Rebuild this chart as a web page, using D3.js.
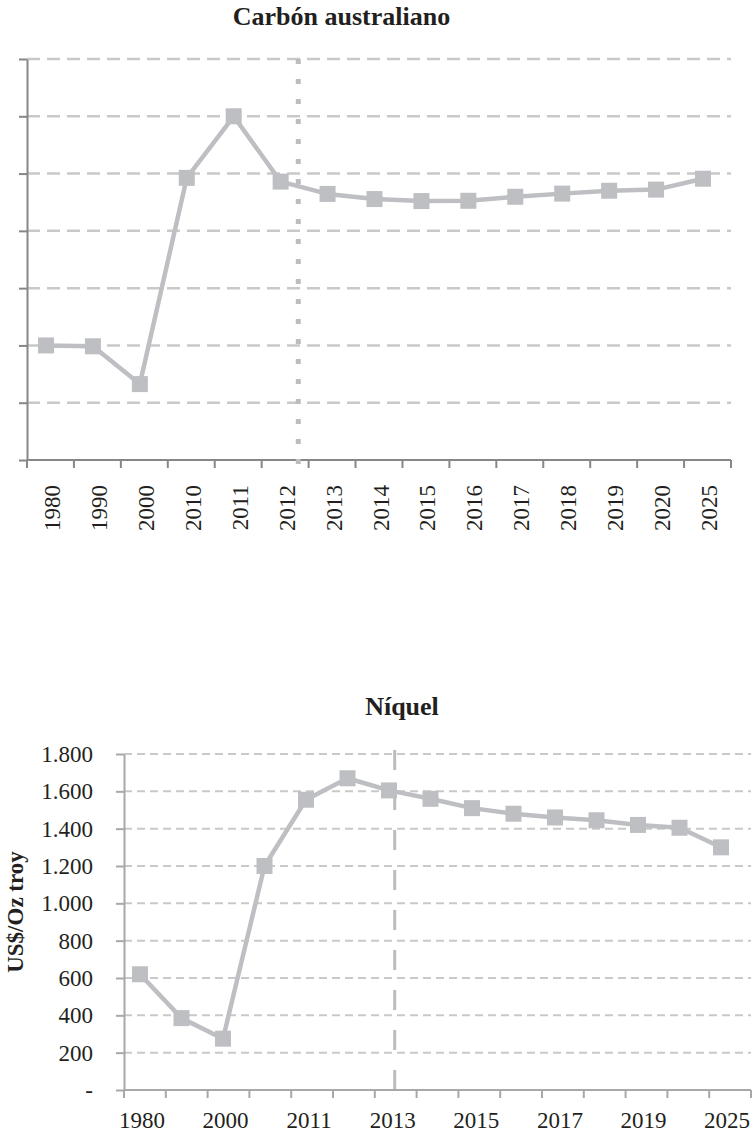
<!DOCTYPE html>
<html>
<head>
<meta charset="utf-8">
<script src="https://cdn.jsdelivr.net/npm/d3@7"></script>
<style>
  html, body { margin: 0; padding: 0; background: #ffffff; }
  svg { display: block; }
  text { font-family: "Liberation Serif", "DejaVu Serif", serif; fill: #231f20; }
</style>
</head>
<body>
<div id="chart"></div>
<script>
// ---------- DATA ----------
const coalTitle = "Carbón australiano";
const coalCategories = ["1980","1990","2000","2010","2011","2012","2013","2014","2015","2016","2017","2018","2019","2020","2025"];
const coalValues = [40, 39.7, 26.5, 98.5, 120, 97.2, 92.9, 91.1, 90.4, 90.5, 91.9, 93.0, 94.0, 94.4, 98.2];
const coalTicks = [0, 20, 40, 60, 80, 100, 120, 140];
const coalMarkerYear = "2012";

const nickelTitle = "Níquel";
const nickelCategories = ["1980","1990","2000","2010","2011","2012","2013","2014","2015","2016","2017","2018","2019","2020","2025"];
const nickelValues = [620, 385, 275, 1200, 1555, 1670, 1605, 1560, 1510, 1480, 1460, 1445, 1420, 1405, 1300];
const nickelTicks = [0, 200, 400, 600, 800, 1000, 1200, 1400, 1600, 1800];
const nickelLabelYears = ["1980","2000","2011","2013","2015","2017","2019","2025"];
const nickelMarkerYear = "2013";
const nickelYLabel = "US$/Oz troy";

// ---------- STYLE ----------
const seriesColor = "#bebfc3";
const gridColor = "#c9c9c9";
const W = 756, H = 1135;

const svg = d3.select("#chart").append("svg")
  .attr("width", W).attr("height", H)
  .attr("viewBox", `0 0 ${W} ${H}`);

const locale = d3.formatLocale({decimal: ",", thousands: ".", grouping: [3], currency: ["", ""]});
const fmt = locale.format(",");

// ================= TOP CHART: Carbón australiano =================
(function () {
  const L = 27, R = 731, T = 59, B = 460;
  const g = svg.append("g");
  const x = d3.scaleBand().domain(coalCategories).range([L, R]);
  const xp = d3.scalePoint().domain(coalCategories).range([L + 19, R - 28]);
  const y = d3.scaleLinear().domain([0, 140]).range([B, T]);
  const axisColor = "#878787";

  // title
  g.append("text").attr("x", 341.5).attr("y", 25)
    .attr("text-anchor", "middle").attr("font-weight", "bold").attr("font-size", 26)
    .text(coalTitle);

  // gridlines
  g.append("g").selectAll("line").data(coalTicks.filter(t => t > 0)).join("line")
    .attr("x1", L).attr("x2", R)
    .attr("y1", d => y(d)).attr("y2", d => y(d))
    .attr("stroke", gridColor).attr("stroke-width", 2.5).attr("stroke-dasharray", "13,7");

  // y axis
  const ya = g.append("g").attr("transform", `translate(${L},0)`)
    .call(d3.axisLeft(y).tickValues(coalTicks).tickSize(8).tickSizeOuter(0).tickFormat(""));
  ya.select(".domain").attr("stroke", axisColor).attr("stroke-width", 2);
  ya.selectAll(".tick line").attr("stroke", axisColor).attr("stroke-width", 2);

  // x axis
  const xa = g.append("g");
  xa.append("line").attr("x1", L).attr("x2", R).attr("y1", B).attr("y2", B)
    .attr("stroke", axisColor).attr("stroke-width", 2);
  const bounds = coalCategories.map(c => x(c)).concat([x(coalCategories[coalCategories.length - 1]) + x.bandwidth()]);
  xa.selectAll("line.tk").data(bounds).join("line").attr("class", "tk")
    .attr("x1", d => d).attr("x2", d => d).attr("y1", B).attr("y2", B + 8)
    .attr("stroke", axisColor).attr("stroke-width", 2);
  xa.selectAll("text").data(coalCategories).join("text")
    .attr("transform", d => `translate(${x(d) + x.bandwidth() / 2 + 2},${B + 25}) rotate(-90)`)
    .attr("text-anchor", "end").attr("dominant-baseline", "central")
    .attr("font-size", 23)
    .text(d => d);

  // dotted marker line
  const mx = x(coalMarkerYear) + x.bandwidth() * 0.78;
  g.append("line").attr("x1", mx).attr("x2", mx).attr("y1", T).attr("y2", B + 4)
    .attr("stroke", "#bcbdc1").attr("stroke-width", 5).attr("stroke-dasharray", "5,15");

  // series
  const pts = coalCategories.map((c, i) => [xp(c), y(coalValues[i])]);
  g.append("path").attr("d", d3.line()(pts))
    .attr("fill", "none").attr("stroke", seriesColor).attr("stroke-width", 4.5)
    .attr("stroke-linejoin", "round");
  g.append("g").selectAll("rect").data(pts).join("rect")
    .attr("x", d => d[0] - 8).attr("y", d => d[1] - 8)
    .attr("width", 16).attr("height", 16).attr("fill", seriesColor);
})();

// ================= BOTTOM CHART: Níquel =================
(function () {
  const L = 124, R = 751, T = 754, B = 1090;
  const g = svg.append("g");
  const x = d3.scaleBand().domain(nickelCategories).range([L, R]);
  const xp = d3.scalePoint().domain(nickelCategories).range([L + 16, R - 30]);
  const y = d3.scaleLinear().domain([0, 1800]).range([B, T]);
  const axisColor = "#a8a8a8";

  // title
  g.append("text").attr("x", 402).attr("y", 715)
    .attr("text-anchor", "middle").attr("font-weight", "bold").attr("font-size", 26)
    .text(nickelTitle);

  // y label
  g.append("text").attr("transform", `translate(23,912) rotate(-90)`)
    .attr("text-anchor", "middle").attr("font-weight", "bold").attr("font-size", 23)
    .text(nickelYLabel);

  // gridlines
  g.append("g").selectAll("line").data(nickelTicks.filter(t => t > 0)).join("line")
    .attr("x1", L).attr("x2", R)
    .attr("y1", d => y(d)).attr("y2", d => y(d))
    .attr("stroke", gridColor).attr("stroke-width", 2).attr("stroke-dasharray", "8,5");

  // vertical dashed marker line
  const mx = x(nickelMarkerYear) + x.bandwidth() / 2 - 1;
  g.append("line").attr("x1", mx).attr("x2", mx).attr("y1", T - 4).attr("y2", B)
    .attr("stroke", "#bcbcbc").attr("stroke-width", 3).attr("stroke-dasharray", "20,20");

  // y axis
  const ya = g.append("g").attr("transform", `translate(${L},0)`)
    .call(d3.axisLeft(y).tickValues(nickelTicks).tickSize(8).tickSizeOuter(0).tickPadding(23)
      .tickFormat(d => d === 0 ? "-" : fmt(d)));
  ya.select(".domain").attr("stroke", axisColor).attr("stroke-width", 2);
  ya.selectAll(".tick line").attr("stroke", axisColor).attr("stroke-width", 2);
  ya.selectAll(".tick text").attr("font-size", 23)
    .attr("font-family", "'Liberation Serif', serif").attr("fill", "#231f20")
    .attr("dy", null).attr("dominant-baseline", "central");

  // x axis
  const xa = g.append("g");
  xa.append("line").attr("x1", L).attr("x2", R).attr("y1", B).attr("y2", B)
    .attr("stroke", axisColor).attr("stroke-width", 2);
  const bounds = nickelCategories.map(c => x(c)).concat([x(nickelCategories[nickelCategories.length - 1]) + x.bandwidth()]);
  xa.selectAll("line.tk").data(bounds).join("line").attr("class", "tk")
    .attr("x1", d => d).attr("x2", d => d).attr("y1", B).attr("y2", B + 8)
    .attr("stroke", axisColor).attr("stroke-width", 2);
  xa.selectAll("text").data(nickelLabelYears).join("text")
    .attr("x", d => x(d) + x.bandwidth() / 2 - 3).attr("y", B + 38)
    .attr("text-anchor", "middle").attr("font-size", 23)
    .text(d => d);

  // series
  const pts = nickelCategories.map((c, i) => [xp(c), y(nickelValues[i])]);
  g.append("path").attr("d", d3.line()(pts))
    .attr("fill", "none").attr("stroke", seriesColor).attr("stroke-width", 4.5)
    .attr("stroke-linejoin", "round");
  g.append("g").selectAll("rect").data(pts).join("rect")
    .attr("x", d => d[0] - 8).attr("y", d => d[1] - 8)
    .attr("width", 16).attr("height", 16).attr("fill", seriesColor);
})();
</script>
</body>
</html>
